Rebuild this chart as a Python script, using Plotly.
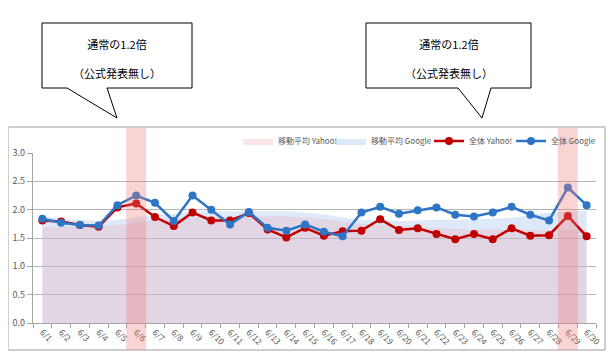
import plotly.graph_objects as go

days = [f"6/{d}" for d in range(1, 31)]

yahoo = [1.81, 1.79, 1.73, 1.70, 2.04, 2.11, 1.87, 1.71, 1.95, 1.81,
         1.81, 1.94, 1.65, 1.51, 1.68, 1.54, 1.62, 1.63, 1.83, 1.64,
         1.67, 1.57, 1.48, 1.57, 1.48, 1.67, 1.54, 1.55, 1.89, 1.53]
google = [1.84, 1.77, 1.73, 1.72, 2.08, 2.25, 2.12, 1.80, 2.25, 2.00,
          1.74, 1.96, 1.68, 1.63, 1.74, 1.61, 1.53, 1.95, 2.05, 1.93,
          1.99, 2.04, 1.91, 1.88, 1.95, 2.05, 1.91, 1.81, 2.39, 2.08]
yahoo_ma = [1.70, 1.70, 1.70, 1.71, 1.73, 1.77, 1.81, 1.84, 1.86, 1.87,
            1.88, 1.88, 1.88, 1.88, 1.86, 1.83, 1.79, 1.75, 1.73, 1.71,
            1.70, 1.68, 1.66, 1.65, 1.65, 1.64, 1.64, 1.64, 1.64, 1.64]
google_ma = [1.88, 1.85, 1.82, 1.80, 1.82, 1.86, 1.90, 1.93, 1.96, 1.97,
             1.97, 1.97, 1.97, 1.97, 1.95, 1.92, 1.86, 1.82, 1.80, 1.80,
             1.81, 1.82, 1.82, 1.83, 1.84, 1.86, 1.90, 1.95, 1.97, 1.98]
y_ticks = [0.0, 0.5, 1.0, 1.5, 2.0, 2.5, 3.0]
highlight_days = ["6/6", "6/29"]
callout_text = "通常の1.2倍<br><br>（公式発表無し）"

# page body has an 8px default margin: work in window pixels, shift by OFF
OFF = 8
W, H = 616 - OFF, 357 - OFF
ML = 33 - OFF
MT = 153 - OFF
MR = W - (596 - OFF)
MB = H - (323 - OFF)
PW, PH = W - ML - MR, H - MT - MB

def px(x):
    return (x - OFF - ML) / PW

def py(y):
    return (MT + PH - (y - OFF)) / PH

FONT = "Noto Sans CJK JP"
RED = "#c00000"
BLUE = "#2e75c6"

fig = go.Figure()
fig.add_trace(go.Scatter(x=days, y=google_ma, name="移動平均 Google", mode="lines",
                         line=dict(width=0, shape="spline"), fill="tozeroy",
                         fillcolor="rgba(170,200,240,0.40)", legend="legend2"))
fig.add_trace(go.Scatter(x=days, y=yahoo_ma, name="移動平均 Yahoo!", mode="lines",
                         line=dict(width=0, shape="spline"), fill="tozeroy",
                         fillcolor="rgba(240,170,180,0.30)", legend="legend"))
fig.add_trace(go.Scatter(x=days, y=yahoo, name="全体 Yahoo!", mode="lines+markers",
                         line=dict(color=RED, width=2.5),
                         marker=dict(color=RED, size=8), legend="legend3"))
fig.add_trace(go.Scatter(x=days, y=google, name="全体 Google", mode="lines+markers",
                         line=dict(color=BLUE, width=2.5),
                         marker=dict(color=BLUE, size=8), legend="legend4"))

shapes = []
shapes.append(dict(type="rect", xref="paper", yref="paper",
                   x0=px(8), x1=px(605), y0=py(350), y1=py(127),
                   line=dict(color="#bfbfbf", width=1.5), layer="below"))
for d in highlight_days:
    i = days.index(d)
    shapes.append(dict(type="rect", xref="x", yref="paper",
                       x0=i - 0.53, x1=i + 0.53, y0=py(350), y1=py(128),
                       fillcolor="rgba(240,120,120,0.33)", line=dict(width=0),
                       layer="above"))

def callout(x0, x1, y0, y1, b1, b2, tx, ty):
    pts = [(x0, y0), (x1, y0), (x1, y1), (b2, y1), (tx, ty), (b1, y1), (x0, y1)]
    path = "M " + " L ".join(f"{px(a):.5f},{py(b):.5f}" for a, b in pts) + " Z"
    return dict(type="path", xref="paper", yref="paper", path=path,
                fillcolor="white", line=dict(color="#000000", width=1), layer="above")

shapes.append(callout(42, 192, 23, 88, 67, 107, 117, 118))
shapes.append(callout(366, 531, 23, 88, 458, 491, 482, 118))

annotations = []
for cx in (117, 448.5):
    annotations.append(dict(xref="paper", yref="paper", x=px(cx), y=py(58),
                            text=callout_text, showarrow=False,
                            font=dict(family=FONT, size=11, color="#000000"),
                            xanchor="center", yanchor="middle", align="center"))

def leg(xpix):
    return dict(orientation="h", x=px(xpix), y=py(141), xanchor="left",
                yanchor="middle", font=dict(size=8, color="#595959"),
                bgcolor="rgba(0,0,0,0)", itemwidth=30)

fig.update_layout(
    width=W, height=H,
    margin=dict(l=ML, r=MR, t=MT, b=MB, autoexpand=False),
    paper_bgcolor="white", plot_bgcolor="white",
    font=dict(family=FONT, size=9, color="#595959"),
    shapes=shapes, annotations=annotations,
    legend=leg(238), legend2=leg(331), legend3=leg(429), legend4=leg(511),
    showlegend=True,
)
fig.update_xaxes(type="category", range=[-0.5, 29.5], tickangle=45,
                 tickson="boundaries", ticks="outside", ticklen=4,
                 tickcolor="#a6a6a6", showline=True, linecolor="#a6a6a6",
                 linewidth=1.2, showgrid=False, tickfont=dict(size=8.5),
                 fixedrange=True)
fig.update_yaxes(range=[0, 3.0], tickvals=y_ticks, tickformat=".1f",
                 ticks="outside", ticklen=5, tickcolor="#a6a6a6",
                 showline=True, linecolor="#a6a6a6", linewidth=1.2,
                 showgrid=True, gridcolor="#b4b4b4", gridwidth=1.2,
                 zeroline=False, tickfont=dict(size=9), fixedrange=True)

fig.write_html("out.html")
